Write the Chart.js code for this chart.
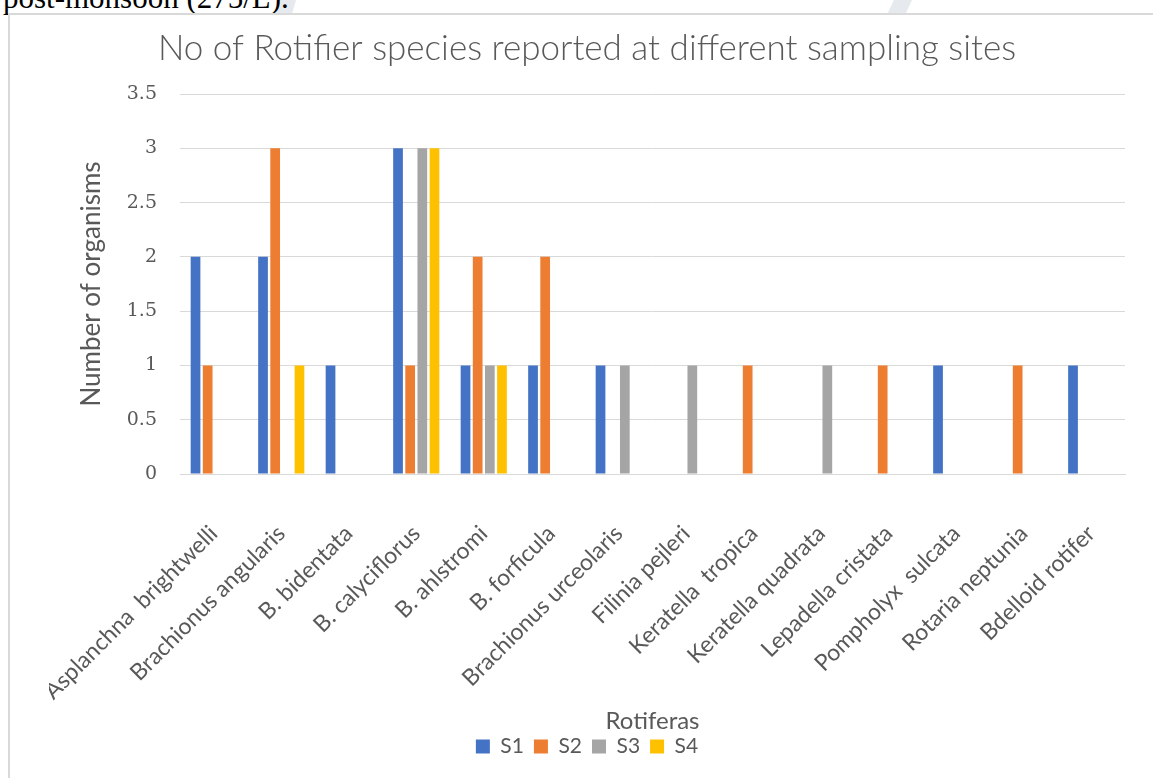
<!DOCTYPE html>
<html>
<head>
<meta charset="utf-8">
<script src="https://cdn.jsdelivr.net/npm/chart.js@4"></script>
<style>
  html, body { margin: 0; padding: 0; background: #fff; overflow: hidden; }
  body { width: 1153px; height: 778px; position: relative; }
  .page-text {
    position: absolute; left: 3px; top: -20px;
    font-family: "Liberation Serif", "Times New Roman", serif;
    font-size: 31px; color: #000; white-space: nowrap;
  }
  .mark { position: absolute; top: 0; height: 14px; background: #e6eaee; }
  .frame {
    position: absolute; left: 8px; top: 13px; width: 1200px; height: 800px;
    border-left: 2px solid #d9d9d9; border-top: 2px solid #d9d9d9;
    box-sizing: border-box;
  }
  #wrap { position: absolute; left: 49px; top: 16px; width: 1104px; height: 762px; }
</style>
</head>
<body>
<div class="mark" style="left:276px;width:20px;clip-path:polygon(20% 0,100% 0,80% 100%,0 100%);"></div>
<div class="mark" style="left:886px;width:26px;clip-path:polygon(30% 0,100% 0,75% 100%,5% 100%);"></div>
<div class="page-text">post-monsoon (275/L).</div>
<div class="frame"></div>
<div id="wrap"><canvas id="chart"></canvas></div>
<script>
// Rotifer species recorded at each sampling site (S1–S4)
const categories = [
  "Asplanchna  brightwelli", "Brachionus angularis", "B. bidentata", "B. calyciflorus",
  "B. ahlstromi", "B. forficula", "Brachionus urceolaris", "Filinia pejleri",
  "Keratella  tropica", "Keratella quadrata", "Lepadella cristata", "Pompholyx  sulcata",
  "Rotaria neptunia", "Bdelloid rotifer"
];
const siteNames = ["S1", "S2", "S3", "S4"];
const s1 = [2, 2, 1, 3, 1, 1, 1, 0, 0, 0, 0, 1, 0, 1];
const s2 = [1, 3, 0, 1, 2, 2, 0, 0, 1, 0, 1, 0, 1, 0];
const s3 = [0, 0, 0, 3, 1, 0, 1, 1, 0, 1, 0, 0, 0, 0];
const s4 = [0, 1, 0, 3, 1, 0, 0, 0, 0, 0, 0, 0, 0, 0];
const yTicks = [0, 0.5, 1, 1.5, 2, 2.5, 3, 3.5];

const palette = ["#4472C4", "#ED7D31", "#A5A5A5", "#FFC000"];
const seriesValues = [s1, s2, s3, s4];

const textGrey = "#595959";
const gridGrey = "#d9d9d9";
const sans = "Lato, 'Open Sans', sans-serif";

const chart = new Chart(document.getElementById("chart"), {
  type: "bar",
  data: {
    labels: categories,
    datasets: seriesValues.map((vals, i) => ({
      label: siteNames[i],
      data: vals,
      backgroundColor: palette[i],
      borderWidth: 0,
      categoryPercentage: 0.72,
      barPercentage: 0.8
    }))
  },
  options: {
    responsive: true,
    maintainAspectRatio: false,
    animation: false,
    layout: { padding: { left: 0, right: 28, top: 0, bottom: 11 } },
    plugins: {
      title: {
        display: true,
        text: "No of Rotifier species reported at different sampling sites",
        color: textGrey,
        font: { family: sans, size: 35, weight: "300" },
        padding: { top: 12, bottom: 24 }
      },
      legend: {
        position: "bottom",
        labels: {
          color: textGrey,
          font: { family: sans, size: 21 },
          boxWidth: 14,
          boxHeight: 14,
          padding: 10
        }
      },
      tooltip: { enabled: false }
    },
    scales: {
      x: {
        grid: { display: false },
        border: { display: true, color: gridGrey, width: 1 },
        ticks: {
          color: textGrey,
          font: { family: sans, size: 23 },
          minRotation: 45,
          maxRotation: 45,
          autoSkip: false,
          padding: 38
        },
        title: {
          display: true,
          text: "Rotiferas",
          color: textGrey,
          font: { family: sans, size: 24 },
          padding: { top: 0, bottom: -10 }
        },
        afterFit: (scale) => {
          // the long rotated labels hang over the y-axis area, keep them from widening it
          scale.height = 252;
          scale.paddingLeft = 0;
          scale.paddingRight = 0;
        }
      },
      y: {
        min: 0,
        max: 3.5,
        afterBuildTicks: (scale) => { scale.ticks = yTicks.map(v => ({ value: v })); },
        grid: { color: gridGrey, lineWidth: 1, drawTicks: false },
        border: { display: false },
        ticks: {
          color: textGrey,
          font: { family: "'DejaVu Serif', serif", size: 19 },
          padding: 23,
          callback: (v) => String(v)
        },
        title: {
          display: true,
          text: "Number of organisms",
          color: textGrey,
          font: { family: sans, size: 26 },
          padding: { top: 27, bottom: 0 }
        },
        afterFit: (scale) => { scale.width = 131; }
      }
    }
  }
});
</script>
</body>
</html>
